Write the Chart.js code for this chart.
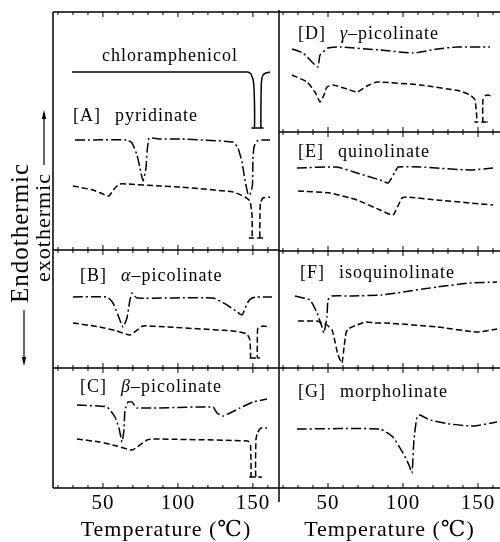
<!DOCTYPE html>
<html>
<head>
<meta charset="utf-8">
<script src="https://cdn.jsdelivr.net/npm/chart.js@4.4.1/dist/chart.umd.min.js"></script>
<style>
  body { margin: 0; background: #fff; }
  #wrap { position: relative; width: 500px; height: 542px; overflow: hidden; background: #fff; }
  canvas { position: absolute; top: 0; }
  #leftChart { left: 0; }
  #rightChart { left: 276px; }
</style>
</head>
<body>
<div id="wrap">
  <canvas id="leftChart" width="282" height="542"></canvas>
  <canvas id="rightChart" width="224" height="542"></canvas>
</div>
<script>
// tick labels (deg C)
const tickTemps = [50, 100, 150];

// sample names
const referenceName = 'chloramphenicol';
const sampleTags = ['[A]', '[B]', '[C]', '[D]', '[E]', '[F]', '[G]'];
const sampleGreek = ['', 'α', 'β', 'γ', '', '', ''];
const sampleNames = ['pyridinate', '–picolinate', '–picolinate', '–picolinate', 'quinolinate', 'isoquinolinate', 'morpholinate'];

// thermograms: temperature (deg C) / signal (arbitrary)
const chlorT = [29.4, 146.7, 148.7, 150.4, 151.0, 151.0, 149.4, 156.7, 155.4, 155.4, 155.7, 156.7, 158.7, 161.4];
const chlorV = [416, 416, 414, 406, 388, 360, 360, 360, 360, 388, 406, 413, 415, 416];

const pyrDdT = [31.4, 66.0, 69.4, 72.7, 74.7, 76.7, 78.7, 79.4, 80.7, 83.4, 88.0, 101.4, 136.7, 140.0, 142.7, 144.7, 146.7, 148.0, 149.7, 150.0, 150.7, 152.7, 156.0, 161.4];
const pyrDdV = [348, 348, 345, 333, 320, 307, 320, 336, 350, 350, 349, 349, 346, 340, 326, 308, 294, 293, 303, 328, 341, 347, 348, 348];
const pyrDsT = [30.0, 43.4, 50.0, 54.0, 58.0, 61.4, 66.0, 88.0, 101.4, 136.7, 144.7, 148.0, 149.4, 149.4, 147.7, 156.4, 154.7, 154.7, 155.0, 156.7, 161.4];
const pyrDsV = [302, 298, 294, 292, 300, 304, 304, 302, 301, 296, 291, 287, 273, 250, 250, 250, 250, 273, 285, 290, 291];

const alphaDdT = [30.0, 52.7, 56.7, 60.0, 63.4, 66.0, 68.0, 69.4, 72.7, 123.4, 132.7, 138.7, 142.7, 146.7, 149.4, 152.7, 162.7];
const alphaDdV = [191, 191, 185, 173, 161, 170, 188, 195, 190, 190, 183, 177, 173, 186, 190, 191, 191];
const alphaDsT = [30.0, 48.0, 59.4, 68.0, 76.7, 92.7, 136.7, 146.0, 148.0, 148.4, 147.0, 154.4, 153.0, 153.0, 153.4, 156.7, 161.4];
const alphaDsV = [165, 161, 157, 153, 162, 161, 157, 154, 148, 130, 130, 130, 130, 155, 160, 162, 161];

const betaDdT = [32.7, 52.7, 58.0, 60.7, 62.7, 64.0, 64.7, 66.7, 69.4, 72.7, 123.4, 126.0, 130.0, 141.4, 150.0, 159.4];
const betaDdV = [83, 81, 71, 60, 46, 58, 78, 86, 86, 80, 81, 75, 72, 80, 86, 89];
const betaDsT = [32.7, 48.0, 59.4, 69.4, 79.4, 83.4, 146.7, 148.4, 148.7, 147.0, 155.7, 152.0, 152.0, 153.0, 155.4, 159.4];
const betaDsV = [49, 46, 42, 38, 48, 49, 47, 43, 11, 11, 11, 11, 48, 55, 60, 60];

const gammaDdT = [26.0, 33.3, 40.0, 43.3, 44.7, 50.0, 58.0, 84.7, 106.7, 122.7, 136.0, 158.0];
const gammaDdV = [439, 435, 425, 421, 433, 440, 441, 438, 435, 439, 441, 441];
const gammaDsT = [26.0, 36.0, 41.3, 44.7, 47.3, 49.3, 53.3, 62.7, 69.3, 76.0, 82.7, 111.3, 138.0, 144.7, 148.0, 149.3, 148.0, 156.0, 153.3, 153.3, 154.7, 156.7, 160.0];
const gammaDsV = [413, 406, 396, 386, 393, 401, 403, 399, 396, 402, 406, 403, 397, 393, 388, 366, 366, 366, 366, 388, 392, 393, 391];

const quinDdT = [29.3, 56.0, 69.3, 84.7, 90.0, 94.7, 96.7, 111.3, 144.7, 160.0];
const quinDdV = [320, 321, 315, 308, 305, 316, 321, 321, 318, 320];
const quinDsT = [30.0, 51.3, 69.3, 84.7, 93.3, 99.3, 102.7, 122.7, 160.0];
const quinDsV = [297, 295, 288, 278, 273, 290, 291, 288, 283];

const isoDdT = [28.0, 38.0, 42.7, 46.0, 47.3, 49.3, 50.0, 52.7, 66.0, 86.0, 100.0, 122.7, 144.7, 162.7];
const isoDdV = [192, 188, 175, 161, 155, 171, 188, 192, 192, 193, 196, 201, 205, 206];
const isoDsT = [30.0, 42.7, 46.0, 49.3, 52.7, 54.7, 56.7, 59.3, 60.7, 62.0, 63.3, 69.3, 74.7, 81.3, 89.3, 122.7, 149.3, 162.7];
const isoDsV = [167, 167, 165, 163, 158, 146, 133, 125, 141, 155, 159, 163, 166, 165, 165, 161, 156, 159];

const morphDdT = [29.3, 84.7, 93.3, 100.0, 104.0, 106.0, 107.3, 109.3, 111.3, 118.0, 131.3, 146.7, 162.7];
const morphDdV = [59, 59, 51, 35, 23, 15, 48, 71, 73, 68, 64, 62, 66];

const SOLID = [];
const DASH_DOT = [10, 3, 2, 3];
const DASHED = [6, 3];
const INK = '#000';
const SERIF = '"Liberation Serif", "DejaVu Serif", serif';

function trace(T, V, dash) {
    return {
        data: T.map((t, i) => ({ x: t, y: V[i] })),
        showLine: true,
        borderColor: INK,
        borderWidth: 1.5,
        borderDash: dash,
        pointRadius: 0,
        tension: 0.15,
        fill: false
    };
}

function arrow(ctx, x, y0, y1) {
    // line from y0 to y1, head at y1
    const dir = y1 > y0 ? 1 : -1;
    ctx.beginPath();
    ctx.moveTo(x, y0);
    ctx.lineTo(x, y1 - dir * 6);
    ctx.stroke();
    ctx.beginPath();
    ctx.moveTo(x, y1);
    ctx.lineTo(x - 2.2, y1 - dir * 9);
    ctx.lineTo(x + 2.2, y1 - dir * 9);
    ctx.closePath();
    ctx.fill();
}

// frame, ticks and sample labels for one column
function framePlugin(cfg) {
    return {
        id: 'frame',
        beforeDraw(chart) {
            chart.ctx.letterSpacing = '1px';
        },
        afterDraw(chart) {
            const ctx = chart.ctx;
            const xs = chart.scales.x, ys = chart.scales.y;
            const { left, right, top, bottom } = chart.chartArea;
            ctx.save();
            ctx.strokeStyle = INK;
            ctx.fillStyle = INK;
            ctx.lineWidth = 1.5;
            ctx.setLineDash([]);

            cfg.dividers.forEach(v => {
                const y = ys.getPixelForValue(v);
                ctx.beginPath();
                ctx.moveTo(left, y);
                ctx.lineTo(right, y);
                ctx.stroke();
                ctx.lineWidth = 1;
                for (let t = 20; t <= 160; t += 10) {
                    const x = xs.getPixelForValue(t);
                    if (x < left + 2 || x > right - 2) continue;
                    const len = t % 50 === 0 ? 5 : 3;
                    const up = v === 476 ? 0 : len;
                    const down = v === 0 ? 0 : len;
                    ctx.beginPath();
                    ctx.moveTo(x, y - up);
                    ctx.lineTo(x, y + down);
                    ctx.stroke();
                }
                ctx.lineWidth = 1.5;
            });

            if (cfg.leftEdge) {
                ctx.beginPath();
                ctx.moveTo(left, top);
                ctx.lineTo(left, bottom);
                ctx.stroke();
            }
            if (cfg.rightEdge) {
                ctx.beginPath();
                ctx.moveTo(right, top - 2);
                ctx.lineTo(right, bottom + 14);
                ctx.stroke();
            }

            // sample labels
            ctx.textBaseline = 'alphabetic';
            ctx.textAlign = 'left';
            ctx.letterSpacing = '1px';
            cfg.labels.forEach(lab => {
                let x = xs.getPixelForValue(lab.t);
                const y = ys.getPixelForValue(lab.v);
                ctx.font = '18px ' + SERIF;
                if (lab.tag) {
                    ctx.fillText(lab.tag, x, y);
                    x += ctx.measureText(lab.tag).width + 14;
                }
                if (lab.greek) {
                    ctx.font = 'italic 18px ' + SERIF;
                    ctx.fillText(lab.greek, x, y);
                    x += ctx.measureText(lab.greek).width;
                    ctx.font = '18px ' + SERIF;
                }
                ctx.fillText(lab.name, x, y);
            });

            if (cfg.yTitle) {
                ctx.lineWidth = 1.2;
                ctx.save();
                ctx.translate(28, 303);
                ctx.rotate(-Math.PI / 2);
                ctx.font = '25px ' + SERIF;
                ctx.fillText('Endothermic', 0, 0);
                ctx.restore();
                ctx.save();
                ctx.translate(50, 282);
                ctx.rotate(-Math.PI / 2);
                ctx.font = '22px ' + SERIF;
                ctx.fillText('exothermic', 0, 0);
                ctx.restore();
                arrow(ctx, 24, 310, 366);
                arrow(ctx, 44, 165, 110);
            }
            ctx.restore();
        }
    };
}

function makeChart(id, xMin, xMax, padding, datasets, cfg) {
    return new Chart(document.getElementById(id), {
        type: 'scatter',
        data: { datasets },
        options: {
            responsive: false,
            animation: false,
            devicePixelRatio: 1,
            layout: { padding },
            plugins: { legend: { display: false }, tooltip: { enabled: false } },
            scales: {
                x: {
                    type: 'linear',
                    min: xMin,
                    max: xMax,
                    position: 'bottom',
                    grid: { display: false, drawTicks: false },
                    border: { display: false },
                    afterBuildTicks: axis => { axis.ticks = tickTemps.map(v => ({ value: v })); },
                    afterFit: axis => { axis.height = 54; },
                    ticks: {
                        color: INK,
                        padding: 3,
                        maxRotation: 0,
                        font: { family: SERIF, size: 21 }
                    },
                    title: {
                        display: true,
                        text: 'Temperature (℃)',
                        color: INK,
                        font: { family: SERIF, size: 22, lineHeight: 1 },
                        padding: { top: 0, bottom: 1 }
                    }
                },
                y: { type: 'linear', min: 0, max: 476, display: false }
            }
        },
        plugins: [framePlugin(cfg)]
    });
}

makeChart('leftChart', 16.7, 167.4, { left: 53, right: 3, top: 12, bottom: 0 }, [
    trace(chlorT, chlorV, SOLID),
    trace(pyrDdT, pyrDdV, DASH_DOT),
    trace(pyrDsT, pyrDsV, DASHED),
    trace(alphaDdT, alphaDdV, DASH_DOT),
    trace(alphaDsT, alphaDsV, DASHED),
    trace(betaDdT, betaDdV, DASH_DOT),
    trace(betaDsT, betaDsV, DASHED)
], {
    dividers: [476, 238, 120, 0],
    leftEdge: true,
    rightEdge: true,
    yTitle: true,
    labels: [
        { t: 49.4, v: 427, name: referenceName },
        { t: 30.0, v: 367, tag: sampleTags[0], greek: sampleGreek[0], name: sampleNames[0] },
        { t: 34.7, v: 207, tag: sampleTags[1], greek: sampleGreek[1], name: sampleNames[1] },
        { t: 34.7, v: 96, tag: sampleTags[2], greek: sampleGreek[2], name: sampleNames[2] }
    ]
});

makeChart('rightChart', 17.33, 164.67, { left: 3, right: 0, top: 12, bottom: 0 }, [
    trace(gammaDdT, gammaDdV, DASH_DOT),
    trace(gammaDsT, gammaDsV, DASHED),
    trace(quinDdT, quinDdV, DASH_DOT),
    trace(quinDsT, quinDsV, DASHED),
    trace(isoDdT, isoDdV, DASH_DOT),
    trace(isoDsT, isoDsV, DASHED),
    trace(morphDdT, morphDdV, DASH_DOT)
], {
    dividers: [476, 356, 237, 120, 0],
    leftEdge: false,
    rightEdge: false,
    yTitle: false,
    labels: [
        { t: 30.0, v: 449, tag: sampleTags[3], greek: sampleGreek[3], name: sampleNames[3] },
        { t: 30.0, v: 331, tag: sampleTags[4], greek: sampleGreek[4], name: sampleNames[4] },
        { t: 31.3, v: 210, tag: sampleTags[5], greek: sampleGreek[5], name: sampleNames[5] },
        { t: 30.0, v: 91, tag: sampleTags[6], greek: sampleGreek[6], name: sampleNames[6] }
    ]
});
</script>
</body>
</html>
